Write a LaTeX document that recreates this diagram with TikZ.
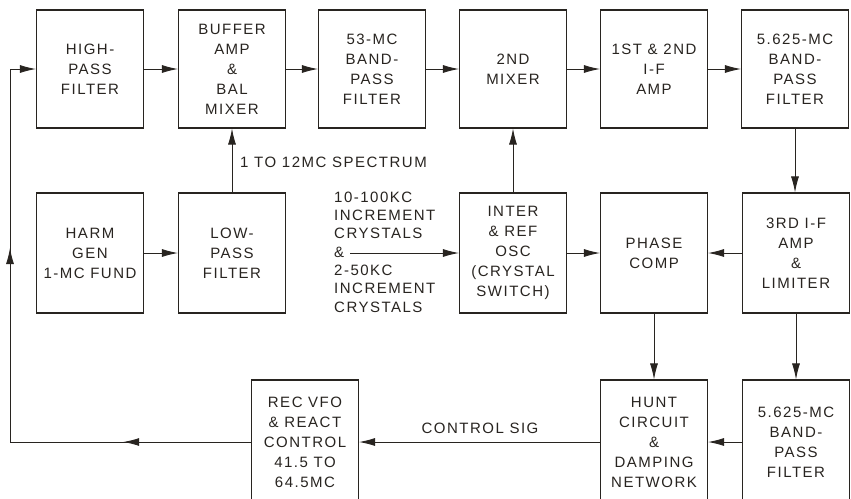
\documentclass[tikz,border=0pt]{standalone}
\usepackage{fontspec}
\newfontfamily\lab{Liberation Sans}[LetterSpace=10]
\usetikzlibrary{arrows.meta,decorations.markings}
\definecolor{ink}{RGB}{40,36,32}
\begin{document}
\begin{tikzpicture}[x=1pt,y=-1pt,
  box/.style={draw=ink, line width=1.1pt, minimum width=107pt, align=center, inner sep=0pt,
              text=ink, font=\lab\fontsize{15}{20}\selectfont},
  toprow/.style={box, minimum height=118pt},
  midrow/.style={box, minimum height=120pt},
  botrow/.style={box, minimum height=124pt},
  lbl/.style={inner sep=0pt, text=ink, font=\lab\fontsize{15}{18.3}\selectfont},
  conn/.style={draw=ink, line width=0.9pt},
  tip/.style={-{Latex[length=16pt,width=8pt]}},
  midarr/.style={postaction={decorate}, decoration={markings,
     mark=at position #1 with {\arrow[ink]{Latex[length=16pt,width=8pt]}}}}
]
\clip (0,0) rectangle (851,498);
\fill[white] (0,0) rectangle (851,498);

% top row
\node[toprow] (hp)   at (90,69)  {HIGH-\\PASS\\FILTER};
\node[toprow] (buf)  at (232,69) {BUFFER\\AMP\\\&\\BAL\\MIXER};
\node[toprow] (bp53) at (372,69) {53-MC\\BAND-\\PASS\\FILTER};
\node[toprow] (mix)  at (513,69) {2ND\\MIXER};
\node[toprow] (ifa)  at (654,69) {1ST \& 2ND\\I-F\\AMP};
\node[toprow] (bpa)  at (795,69) {5.625-MC\\BAND-\\PASS\\FILTER};
% middle row
\node[midrow] (harm) at (90,253)  {HARM\\GEN\\1-MC FUND};
\node[midrow] (lp)   at (232,253) {LOW-\\PASS\\FILTER};
\node[midrow] (osc)  at (513,253) {INTER\\\& REF\\OSC\\(CRYSTAL\\SWITCH)};
\node[midrow] (pc)   at (654,253) {PHASE\\COMP};
\node[midrow] (if3)  at (796,253) {3RD I-F\\AMP\\\&\\LIMITER};
% bottom row
\node[botrow] (vfo)  at (305,442) {REC VFO\\\& REACT\\CONTROL\\41.5 TO\\64.5MC};
\node[botrow] (hunt) at (654,442) {HUNT\\CIRCUIT\\\&\\DAMPING\\NETWORK};
\node[botrow] (bpb)  at (796,442) {5.625-MC\\BAND-\\PASS\\FILTER};

% labels
\node[lbl, anchor=west] (spec) at (240,162) {1 TO 12MC SPECTRUM};
\node[lbl, anchor=west, align=left] (xtal) at (334,252)
  {10-100KC\\INCREMENT\\CRYSTALS\\\&\\2-50KC\\INCREMENT\\CRYSTALS};
\node[lbl] (csig) at (480,428) {CONTROL SIG};
\coordinate (xs) at (350,253);
\coordinate (c1) at (10,442);
\coordinate (c2) at (10,69);

% connectors
\draw[conn,tip] (hp) -- (buf);
\draw[conn,tip] (buf) -- (bp53);
\draw[conn,tip] (bp53) -- (mix);
\draw[conn,tip] (mix) -- (ifa);
\draw[conn,tip] (ifa) -- (bpa);
\draw[conn,tip] (bpa.south) -- (bpa.south |- if3.north);
\draw[conn,tip] (lp.north) -- (buf.south);
\draw[conn,tip] (osc.north) -- (mix.south);
\draw[conn,tip] (harm) -- (lp);
\draw[conn,tip] (xs) -- (osc.west);
\draw[conn,tip] (osc) -- (pc);
\draw[conn,tip] (if3) -- (pc);
\draw[conn,tip] (pc.south) -- (hunt.north);
\draw[conn,tip] (if3.south) -- (bpb.north);
\draw[conn,tip] (bpb) -- (hunt);
\draw[conn,tip] (hunt) -- (vfo);
\draw[conn,midarr=0.53] (vfo.west) -- (c1);
\draw[conn,midarr=0.52] (c1) -- (c2);
\draw[conn,tip] (c2) -- (hp.west);
\end{tikzpicture}
\end{document}
